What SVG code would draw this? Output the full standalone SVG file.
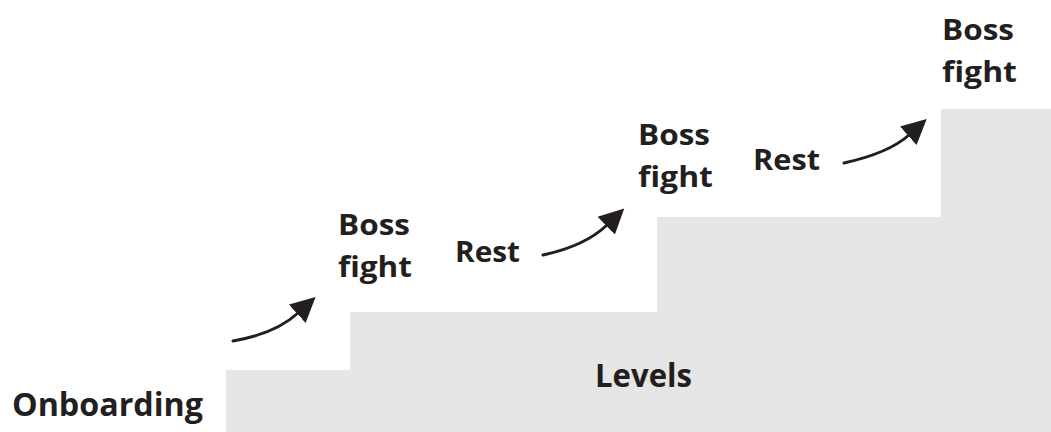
<svg xmlns="http://www.w3.org/2000/svg" width="1051" height="432" viewBox="0 0 1051 432">
<style>
.lbl{font-family:"Open Sans","Noto Sans","Liberation Sans",sans-serif;font-weight:bold;fill:#231f20;font-size:29px}
.big{font-size:33px}
.arrow{fill:none;stroke:#231f20;stroke-width:3;stroke-linecap:round}
</style>
<defs>
<marker id="ah" markerUnits="userSpaceOnUse" markerWidth="26" markerHeight="26" refX="1" refY="11.5" orient="auto" viewBox="0 0 24 23">
<path d="M0,0 L23,11.5 L0,23 Z" fill="#231f20"/>
</marker>
</defs>
<rect width="1051" height="432" fill="#ffffff"/>
<g id="stairs">
<path d="M226,432 V370 H350 V312 H657 V217 H941 V109 H1051 V432 Z" fill="#e6e6e6"/>
</g>
<g id="onboarding"><text class="lbl big" x="12" y="416" textLength="191" lengthAdjust="spacingAndGlyphs">Onboarding</text></g>
<g id="levels"><text class="lbl big" x="595" y="387" textLength="97" lengthAdjust="spacingAndGlyphs">Levels</text></g>
<g id="boss1"><text class="lbl" x="338" y="235" textLength="72" lengthAdjust="spacingAndGlyphs">Boss</text><text class="lbl" x="338" y="277" textLength="74" lengthAdjust="spacingAndGlyphs">fight</text></g>
<g id="rest1"><text class="lbl" x="455" y="262" textLength="65" lengthAdjust="spacingAndGlyphs">Rest</text></g>
<g id="boss2"><text class="lbl" x="638" y="145" textLength="72" lengthAdjust="spacingAndGlyphs">Boss</text><text class="lbl" x="638" y="187" textLength="75" lengthAdjust="spacingAndGlyphs">fight</text></g>
<g id="rest2"><text class="lbl" x="753" y="170" textLength="67" lengthAdjust="spacingAndGlyphs">Rest</text></g>
<g id="boss3"><text class="lbl" x="942" y="40" textLength="72" lengthAdjust="spacingAndGlyphs">Boss</text><text class="lbl" x="942" y="82" textLength="75" lengthAdjust="spacingAndGlyphs">fight</text></g>
<g id="connectors">
<path class="arrow" d="M233,341 Q275,334 298,313" marker-end="url(#ah)"/>
<path class="arrow" d="M543,255 Q585,246 607,225" marker-end="url(#ah)"/>
<path class="arrow" d="M844,163 Q889,153 909,135" marker-end="url(#ah)"/>
</g>
</svg>
